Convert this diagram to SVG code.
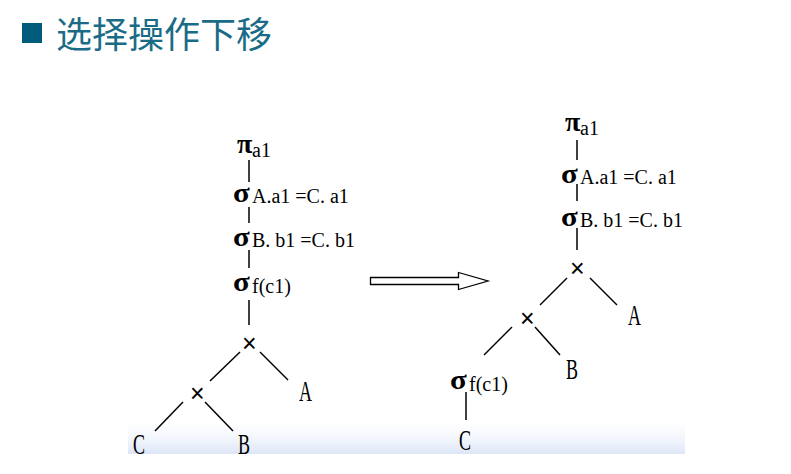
<svg xmlns="http://www.w3.org/2000/svg" width="791" height="474" viewBox="0 0 791 474">
<defs>
<style>
.ln{stroke:#000;stroke-width:1.5;fill:none}
.op{font-family:"Liberation Serif","DejaVu Serif",serif;font-size:28px;font-weight:bold;fill:#000}
.sub{font-family:"Liberation Serif","DejaVu Serif",serif;font-size:20px;fill:#000}
.lt{font-family:"Liberation Serif","DejaVu Serif",serif;font-size:30px;fill:#000}
.x{font-family:"Liberation Sans","DejaVu Sans",sans-serif;font-size:25px;fill:#000}
</style>
<linearGradient id="band" x1="0" y1="0" x2="0" y2="1">
<stop offset="0" stop-color="#eef2fb" stop-opacity="0"/>
<stop offset="1" stop-color="#dde6f7"/>
</linearGradient>
</defs>
<rect width="791" height="474" fill="#fff"/>
<rect x="128" y="422" width="557" height="32" fill="url(#band)"/>
<g id="title">
<rect x="22" y="23" width="20" height="20" fill="#005c7a"/>
<text x="56" y="48" font-family="'Noto Sans CJK SC',sans-serif" font-size="36" fill="#1a6c86">选择操作下移</text>
</g>
<g id="arrow">
<path d="M370.5,277.5 H458.5 V272.5 L488,281 L458.5,289.5 V284.5 H370.5 Z" fill="#fff" stroke="#000" stroke-width="1.3"/>
</g>
<g id="connectors">
<line class="ln" x1="249" y1="160" x2="249" y2="182"/>
<line class="ln" x1="249" y1="207" x2="249" y2="223"/>
<line class="ln" x1="249" y1="250" x2="249" y2="268"/>
<line class="ln" x1="249" y1="300" x2="249" y2="325"/>
<line class="ln" x1="240" y1="352" x2="210" y2="381"/>
<line class="ln" x1="260" y1="352" x2="288" y2="380"/>
<line class="ln" x1="183" y1="402" x2="155" y2="431"/>
<line class="ln" x1="205" y1="402" x2="233" y2="431"/>
<line class="ln" x1="577" y1="140" x2="577" y2="160"/>
<line class="ln" x1="577" y1="184" x2="577" y2="201"/>
<line class="ln" x1="577" y1="228" x2="577" y2="250"/>
<line class="ln" x1="567" y1="278" x2="540" y2="305"/>
<line class="ln" x1="590" y1="278" x2="617" y2="305"/>
<line class="ln" x1="512" y1="327" x2="484" y2="355"/>
<line class="ln" x1="535" y1="327" x2="560" y2="355"/>
<line class="ln" x1="466" y1="392" x2="466" y2="420"/>
</g>
<g id="L_pi"><text class="op" x="237" y="153">π</text><text class="sub" x="252" y="157">a1</text></g>
<g id="L_sigA"><text class="op" transform="translate(233,202) scale(1.1,1)">σ</text><text class="sub" x="252" y="203">A.a1 =C. a1</text></g>
<g id="L_sigB"><text class="op" transform="translate(233,246) scale(1.1,1)">σ</text><text class="sub" x="252" y="247">B. b1 =C. b1</text></g>
<g id="L_sigF"><text class="op" transform="translate(233,291) scale(1.1,1)">σ</text><text class="sub" x="252" y="293">f(c1)</text></g>
<g id="L_x1"><text class="x" x="242" y="352">×</text></g>
<g id="L_x2"><text class="x" x="190" y="402">×</text></g>
<g id="L_A"><text class="lt" transform="translate(299,401) scale(0.6,1)">A</text></g>
<g id="L_C"><text class="lt" transform="translate(133,454) scale(0.6,1)">C</text></g>
<g id="L_B"><text class="lt" transform="translate(238,454) scale(0.6,1)">B</text></g>
<g id="R_pi"><text class="op" x="565" y="131">π</text><text class="sub" x="580" y="135">a1</text></g>
<g id="R_sigA"><text class="op" transform="translate(561,183) scale(1.1,1)">σ</text><text class="sub" x="580" y="184">A.a1 =C. a1</text></g>
<g id="R_sigB"><text class="op" transform="translate(561,226) scale(1.1,1)">σ</text><text class="sub" x="580" y="227">B. b1 =C. b1</text></g>
<g id="R_x1"><text class="x" x="570" y="277">×</text></g>
<g id="R_x2"><text class="x" x="520" y="327">×</text></g>
<g id="R_A"><text class="lt" transform="translate(628,325) scale(0.6,1)">A</text></g>
<g id="R_B"><text class="lt" transform="translate(566,379) scale(0.6,1)">B</text></g>
<g id="R_sigF"><text class="op" transform="translate(450,389) scale(1.1,1)">σ</text><text class="sub" x="469" y="391">f(c1)</text></g>
<g id="R_C"><text class="lt" transform="translate(459,450) scale(0.6,1)">C</text></g>
</svg>
